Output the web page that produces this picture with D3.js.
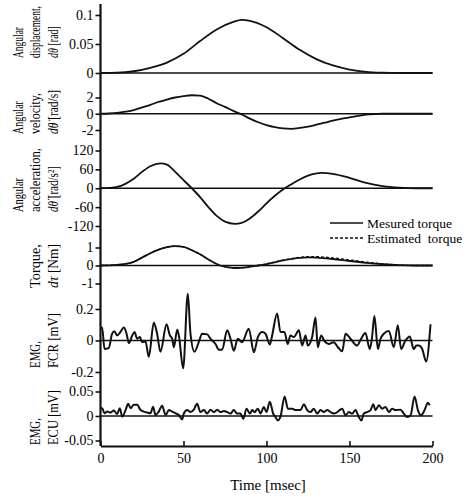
<!DOCTYPE html>
<html><head><meta charset="utf-8">
<script src="https://cdn.jsdelivr.net/npm/d3@7"></script>
<style>
body{margin:0;background:#fff;}
svg text{font-family:"Liberation Serif","Times New Roman",serif;fill:#000;}
</style></head><body>
<svg id="c" width="474" height="499"></svg>
<script>
// ---------- DATA ----------
const timeTicks = [0, 50, 100, 150, 200];

const dispT = [0,10,20,30,40,50,60,70,80,85,90,100,110,120,130,140,150,160,170,180,200];
const dispV = [0,0.0005,0.003,0.009,0.018,0.033,0.055,0.075,0.088,0.0915,0.090,0.079,0.060,0.040,0.024,0.013,0.006,0.002,0.0005,0,0];
const dispTicks = [0, 0.05, 0.1];
const dispTickLabels = ["0", "0.05", "0.1"];

const velT = [0,5,10,15,20,25,30,35,40,45,50,55,60,65,70,75,80,85,90,95,100,105,110,115,120,125,130,135,140,145,150,155,160,165,170,200];
const velV = [0,0.03,0.1,0.25,0.45,0.78,1.1,1.45,1.75,2.0,2.17,2.28,2.22,1.85,1.3,0.85,0.35,-0.08,-0.6,-1.05,-1.4,-1.65,-1.8,-1.85,-1.75,-1.58,-1.35,-1.1,-0.85,-0.63,-0.45,-0.27,-0.12,-0.04,0,0];
const velTicks = [-2, 0, 2];
const velTickLabels = ["-2", "0", "2"];

const accT = [0,5,10,15,20,25,30,36,40,45,50,55,60,65,70,75,81,85,90,95,100,105,111,115,120,125,133,140,150,160,170,180,190,200];
const accV = [0,1,4,14,30,52,70,79,75,52,26,0,-28,-60,-88,-106,-113,-110,-96,-74,-48,-24,0,13,28,40,49,46,33,17,7,2,0,0];
const accTicks = [-120, -60, 0, 60, 120];
const accTickLabels = ["-120", "-60", "0", "60", "120"];

const torT = [0,5,10,15,20,25,30,35,40,45,50,55,60,65,72,77,82,88,95,100,110,120,125,130,140,150,160,170,180,190,200];
const torMeasured  = [0,0.01,0.04,0.09,0.2,0.44,0.68,0.88,1.02,1.08,1.03,0.85,0.62,0.33,0,-0.1,-0.14,-0.1,0,0.08,0.28,0.42,0.45,0.44,0.36,0.25,0.15,0.07,0.02,0,0];
const torEstimated = [0,0.01,0.04,0.09,0.2,0.44,0.68,0.88,1.02,1.08,1.03,0.85,0.62,0.33,0,-0.1,-0.14,-0.1,0,0.09,0.3,0.45,0.49,0.49,0.42,0.31,0.19,0.09,0.03,0,0];
const torTicks = [-1, 0, 1];
const torTickLabels = ["-1", "0", "1"];

const fcrT = [0,1,2.4,5,7,8.4,10,12,14.1,15.7,17.1,19.1,20.5,22.1,23.7,25.1,27.1,29.1,32.1,34.1,36.1,39.8,41.8,43.2,44.2,46.2,47.2,49.8,52.6,54.2,56.6,59.2,61.2,64.3,66.3,69.3,71.3,73.3,76.3,78.3,80.3,82.7,85.3,89.3,92.4,94.8,97.4,99.4,102,103.4,106.4,108.4,110.8,112.8,114.4,116.5,119.5,121.5,123.5,124.9,127.5,129.5,130.9,132.9,134.9,137.5,140.5,143,145.6,147.6,150.6,154.6,157,159.6,162.2,163.6,165,167.1,168.7,170.7,173.7,176.7,179.1,181.1,183.7,186.3,188.7,190.3,191.8,193.8,196.2,198.8];
const fcrV = [0.08,0.082,-0.054,-0.047,0.043,0.058,0.032,0.054,0.082,0.043,-0.017,0.032,0.054,0.011,0.022,-0.011,-0.006,-0.103,0.112,0.043,-0.071,0.103,0.032,0.011,-0.043,0.069,0.032,-0.176,0.297,0.043,-0.071,-0.011,0.043,0.039,0.011,-0.022,-0.058,-0.058,0.065,0.011,-0.065,0.011,-0.011,0.075,-0.075,0.022,0.054,0.043,-0.026,0.032,0.172,0.054,0.054,-0.022,0.032,0.022,0.065,-0.032,0.032,-0.032,0.022,0.146,-0.043,0.032,-0.004,-0.022,-0.011,-0.043,-0.069,0.043,0.011,-0.032,0.011,0.047,-0.054,0.022,0.155,-0.054,0.011,0.043,0.06,-0.043,0.097,-0.054,0,0.026,-0.054,-0.032,-0.032,-0.054,-0.133,0.103];
const fcrTicks = [-0.2, 0, 0.2];
const fcrTickLabels = ["-0.2", "0", "0.2"];

const ecuT = [0,1,2.4,4,6,8,10,11.6,13.1,15.1,16.7,18.1,20.1,22.1,24.1,26.1,28.1,30.1,31.7,33.1,35.1,37.1,39.2,41.2,43.2,45.2,47.2,49.2,50.2,52.2,54.2,56.2,58.2,60.2,62.3,64.3,66.3,68.3,70.3,72.3,74.3,76.3,78.3,80.3,82.3,84.3,86,88,90,91.4,92.8,94.8,96.4,98.4,100,102,104,105.4,106.8,108.4,110.9,112.9,115.5,117.5,120.5,122.5,124.5,126.5,128.5,130.5,132.5,134.5,136.6,138.6,140.6,142.6,145.6,147.6,149.6,151.6,153.6,155.6,157.2,158.6,160.6,162.7,164.3,165.7,167.7,169.7,171.7,173.7,175.7,177.7,180.7,182.7,184.7,186.8,189.2,191.2,193.2,195.2,197.2,198.4];
const ecuV = [0.016,0.016,0.0055,0.009,0.007,0.011,0.004,0.016,-0.0014,0.012,0.025,0.016,0.023,0.023,0.012,0.009,0.007,0.0055,0.019,0.002,0.009,0.021,0.002,0.012,0.009,0.0055,0.002,-0.007,0.005,0.012,0.008,0.013,0.025,0.008,0.012,0.005,0.013,0.008,0.013,0.008,0.010,0.008,0.005,0.012,0.005,0.005,-0.0055,0.015,0.005,0.012,0.008,0.015,0.005,0.0185,0.008,0.029,0.005,-0.002,-0.009,-0.002,0.040,0.015,0.015,0.012,0.012,0.024,0.012,0.008,0.015,0.005,0.012,0.008,0.012,0.008,0.005,0.008,0.015,0.0014,0.008,0.005,0.012,-0.002,-0.009,0.005,0.008,0.012,0.024,0.012,0.022,0.015,0.0185,0.008,0.015,0.012,0.013,0.005,-0.002,0.0014,0.040,0.012,0.0014,0.012,0.027,0.022];
const ecuTicks = [-0.05, 0, 0.05];
const ecuTickLabels = ["-0.05", "0", "0.05"];

const legendLabels = ["Mesured torque", "Estimated  torque"];
const xTitle = "Time [msec]";

// ---------- LAYOUT ----------
const svg = d3.select("#c");
const X0 = 100.5, X1 = 432.5;
const x = d3.scaleLinear().domain([0, 200]).range([X0, X1]);
const AXIS_TOP = 4, AXIS_BOTTOM = 446;
const INK = "#111";

const panels = [
  {t: dispT, series: [{v: dispV}], domain: [0, 0.1], range: [73, 15], ticks: dispTicks, labels: dispTickLabels, curve: d3.curveMonotoneX, sw: 1.8,
   title: [[["Angular"]], [["displacement,"]], [["dθ", true], [" [rad]"]]], tl: [31, 52, 32], tb: 58},
  {t: velT, series: [{v: velV}], domain: [-2, 2], range: [130, 97.5], ticks: velTicks, labels: velTickLabels, curve: d3.curveMonotoneX, sw: 1.8,
   title: [[["Angular"]], [["velocity,"]], [["dθ\u0307", true], [" [rad/s]"]]], tl: [33, 41, 44], tb: 134},
  {t: accT, series: [{v: accV}], domain: [-120, 120], range: [226, 150.5], ticks: accTicks, labels: accTickLabels, curve: d3.curveMonotoneX, sw: 1.8,
   title: [[["Angular"]], [["acceleration,"]], [["dθ\u0308", true], [" [rad/s²]"]]], tl: [34, 64, 46], tb: 212},
  {t: torT, series: [{v: torMeasured}, {v: torEstimated, dash: "3,2"}], domain: [-1, 1], range: [283.5, 247.5], ticks: torTicks, labels: torTickLabels, curve: d3.curveMonotoneX, sw: 1.8,
   title: [[["Torque,"]], [["dτ", true], [" [Nm]"]]], tl: [44, 44], tb: 288},
  {t: fcrT, series: [{v: fcrV}], domain: [-0.2, 0.2], range: [372, 309], ticks: fcrTicks, labels: fcrTickLabels, curve: d3.curveMonotoneX, sw: 2,
   title: [[["EMG,"]], [["FCR [mV]"]]], tl: [27, 55], tb: 368},
  {t: ecuT, series: [{v: ecuV}], domain: [-0.05, 0.05], range: [440.5, 391.5], ticks: ecuTicks, labels: ecuTickLabels, curve: d3.curveMonotoneX, sw: 2,
   title: [[["EMG,"]], [["ECU [mV]"]]], tl: [27, 55], tb: 445}
];

panels.forEach(p => {
  const y = d3.scaleLinear().domain(p.domain).range(p.range);
  const ax = svg.append("g").attr("transform", `translate(${X0},0)`)
    .call(d3.axisLeft(y).tickValues(p.ticks).tickSize(5).tickPadding(2)
      .tickFormat((d, i) => p.labels[i]));
  ax.select(".domain").remove();
  ax.selectAll("line").attr("stroke", INK).attr("stroke-width", 1.6);
  ax.selectAll("text").attr("font-size", 14).attr("font-family", '"Liberation Serif", serif').attr("fill", "#000");
  svg.append("line").attr("x1", X0).attr("x2", X1).attr("y1", y(0)).attr("y2", y(0))
    .attr("stroke", INK).attr("stroke-width", 1.6);
  p.series.forEach(s => {
    const line = d3.line().x((d, i) => x(p.t[i])).y(d => y(d)).curve(p.curve);
    svg.append("path").attr("d", line(s.v)).attr("fill", "none")
      .attr("stroke", INK).attr("stroke-width", s.dash ? 1.3 : p.sw)
      .attr("stroke-dasharray", s.dash || null).attr("stroke-linejoin", "round");
  });
  const n = p.title.length;
  const xs = n === 3 ? [18, 35.5, 53] : [35, 53];
  p.title.forEach((ln, k) => {
    const tx = svg.append("text").attr("font-size", 14)
      .attr("dy", "0.35em").attr("text-anchor", "start");
    ln.forEach(seg => {
      tx.append("tspan").text(seg[0]).attr("font-style", seg[1] ? "italic" : null)
        .style("white-space", "pre");
    });
    const natural = tx.node().getComputedTextLength() || p.tl[k];
    const sx = p.tl[k] / natural;
    tx.attr("transform", `translate(${xs[k]},${p.tb}) rotate(-90) scale(${sx},1)`);
  });
});

svg.append("line").attr("x1", X0).attr("x2", X0).attr("y1", AXIS_TOP).attr("y2", AXIS_BOTTOM)
  .attr("stroke", INK).attr("stroke-width", 2.2);

const bx = svg.append("g").attr("transform", `translate(0,${AXIS_BOTTOM})`)
  .call(d3.axisBottom(x).tickValues(timeTicks).tickSizeInner(-5).tickSizeOuter(0).tickPadding(7));
bx.select(".domain").attr("stroke", INK).attr("stroke-width", 2);
bx.selectAll("line").attr("stroke", INK).attr("stroke-width", 1.6);
bx.selectAll("text").attr("font-size", 14).attr("font-family", '"Liberation Serif", serif').attr("fill", "#000");

svg.append("text").attr("x", 268).attr("y", 490).attr("text-anchor", "middle")
  .attr("font-size", 15).text(xTitle);

const legY = [223, 238];
legendLabels.forEach((lab, i) => {
  svg.append("line").attr("x1", 330).attr("x2", 363).attr("y1", legY[i]).attr("y2", legY[i])
    .attr("stroke", INK).attr("stroke-width", i ? 1.3 : 1.6).attr("stroke-dasharray", i ? "3,2" : null);
  svg.append("text").attr("x", 367).attr("y", legY[i]).attr("dy", "0.35em")
    .attr("font-size", 13.5).style("white-space", "pre").text(lab);
});
</script>
</body></html>
